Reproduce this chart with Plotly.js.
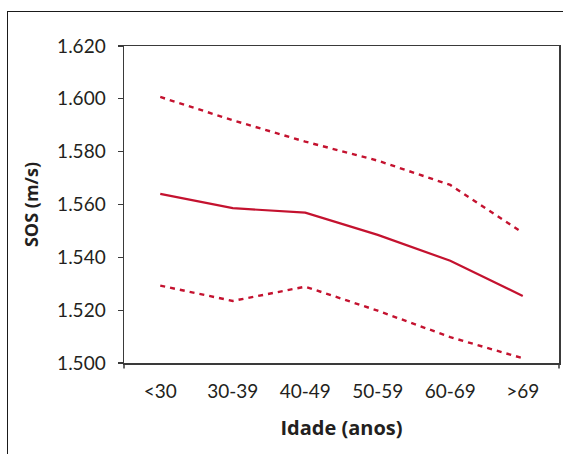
<!DOCTYPE html>
<html>
<head>
<meta charset="utf-8">
<script src="https://cdn.plot.ly/plotly-3.0.1.min.js"></script>
<style>
  html, body { margin: 0; padding: 0; background: #fff; overflow: hidden; }
  #frame { position: absolute; left: 7px; top: 11px; width: 700px; height: 600px; border: 1.5px solid #1a1a1a; }
  #chart { position: absolute; left: 0; top: 0; width: 563px; height: 454px; }
</style>
</head>
<body>
<div id="frame"></div>
<div id="chart"></div>
<script>
// Age groups (Idade, anos)
const categories = ['<30', '30-39', '40-49', '50-59', '60-69', '>69'];
// SOS (m/s)
const sosMean  = [1564.0, 1558.6, 1556.9, 1548.5, 1538.7, 1525.4];
const sosUpper = [1600.7, 1591.9, 1583.8, 1576.6, 1567.4, 1549.3];
const sosLower = [1529.3, 1523.5, 1528.9, 1519.8, 1509.8, 1501.8];
const yTicks = [1500, 1520, 1540, 1560, 1580, 1600, 1620];

const red = '#c4122f';
const axisColor = '#3a3a3a';
const textColor = '#231f20';

const traces = [
  { x: categories, y: sosUpper, type: 'scatter', mode: 'lines',
    line: { color: red, width: 2.4, dash: '5px,5px' }, hoverinfo: 'skip' },
  { x: categories, y: sosMean, type: 'scatter', mode: 'lines',
    line: { color: red, width: 2.2 }, hoverinfo: 'skip' },
  { x: categories, y: sosLower, type: 'scatter', mode: 'lines',
    line: { color: red, width: 2.4, dash: '5px,5px' }, hoverinfo: 'skip' }
];

const layout = {
  width: 563, height: 454,
  margin: { l: 124, r: 4, t: 46, b: 91, pad: 0 },
  paper_bgcolor: 'rgba(0,0,0,0)',
  plot_bgcolor: 'rgba(0,0,0,0)',
  showlegend: false,
  separators: ',.',
  font: { family: 'Lato, sans-serif', size: 19, color: textColor },
  xaxis: {
    type: 'category',
    range: [-0.5, 5.5],
    showgrid: false, zeroline: false,
    showline: true, linecolor: axisColor, linewidth: 1.5, mirror: true,
    ticks: '', ticklabelstandoff: 11,
    tickfont: { family: 'Lato, sans-serif', size: 19, color: textColor },
    title: { text: 'Idade (anos)', standoff: 19,
             font: { family: '"Open Sans", sans-serif', size: 20, color: textColor, weight: 'bold' } }
  },
  yaxis: {
    range: [1500, 1620],
    tickvals: yTicks,
    tickformat: ',d',
    showgrid: false, zeroline: false,
    showline: true, linecolor: axisColor, linewidth: 1.5, mirror: true,
    ticks: 'outside', ticklen: 5, tickwidth: 1.3, tickcolor: axisColor,
    ticklabelstandoff: 8,
    tickfont: { family: 'Lato, sans-serif', size: 19, color: textColor },
    title: { text: 'SOS (m/s)', standoff: 14,
             font: { family: '"Open Sans", sans-serif', size: 18, color: textColor, weight: 'bold' } }
  },
  shapes: [
    { type: 'line', xref: 'paper', yref: 'paper', x0: 0, x1: 0, y0: 0, y1: -0.017,
      line: { color: axisColor, width: 1.5 } },
    { type: 'line', xref: 'paper', yref: 'paper', x0: 1, x1: 1, y0: 0, y1: -0.017,
      line: { color: axisColor, width: 1.5 } }
  ]
};

Plotly.newPlot('chart', traces, layout, { staticPlot: true, displayModeBar: false });
</script>
</body>
</html>
